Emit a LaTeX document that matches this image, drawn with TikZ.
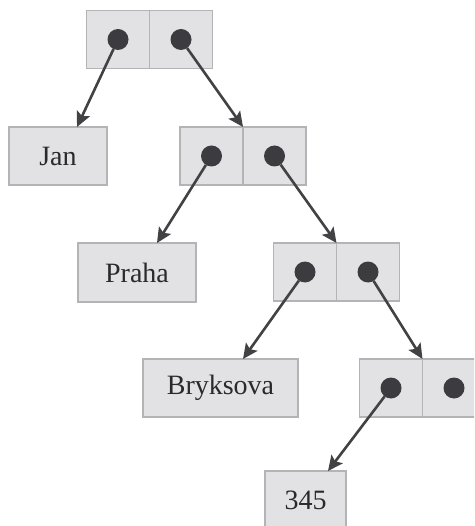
\documentclass[tikz,border=0pt]{standalone}
\usepackage{fontspec}
\setmainfont{Liberation Serif}
\newfontfamily\labelfont{Liberation Serif}
\usetikzlibrary{arrows.meta,calc}
\definecolor{boxfill}{HTML}{E2E2E4}
\definecolor{boxline}{HTML}{B4B4B6}
\definecolor{dotc}{HTML}{3C3C40}
\definecolor{arrc}{HTML}{424244}
\definecolor{txtc}{HTML}{2A2A2C}
\begin{document}
\begin{tikzpicture}[x=1pt,y=-1pt,
  cell/.style={draw=boxline,fill=boxfill,line width=1.2pt,minimum width=63pt,minimum height=58pt,inner sep=0pt,outer sep=0pt},
  textbox/.style={cell,text=txtc,font=\labelfont\fontsize{28}{30}\selectfont},
  dot/.style={circle,fill=dotc,minimum size=21pt,inner sep=0pt,outer sep=0pt},
  ptr/.style={draw=arrc,line width=2.6pt,-{Stealth[length=15pt,width=14pt,inset=3pt]}}]
\useasboundingbox (0,0) rectangle (474,526);
\clip (0,0) rectangle (474,526);
% pairs
\node[cell] (p1l) at (118,39.5) {};
\node[cell,anchor=west] (p1r) at (p1l.east) {};
\node[cell] (p2l) at (211.5,156) {};
\node[cell,anchor=west] (p2r) at (p2l.east) {};
\node[cell] (p3l) at (305,272) {};
\node[cell,anchor=west] (p3r) at (p3l.east) {};
\node[cell] (p4l) at (391,388) {};
\node[cell,anchor=west] (p4r) at (p4l.east) {};
% values
\node[textbox,minimum width=98pt] (jan) at (58,156) {Jan};
\node[textbox,minimum width=118pt,minimum height=59pt] (praha) at (137,272.5) {Praha};
\node[textbox,minimum width=155pt] (bryk) at (220.5,388) {Bryksova};
\node[textbox,minimum width=81pt] (num) at (305.5,500) {345};
% dots
\node[dot] (d1l) at (p1l.center) {};
\node[dot] (d1r) at (p1r.center) {};
\node[dot] (d2l) at (p2l.center) {};
\node[dot] (d2r) at (p2r.center) {};
\node[dot] (d3l) at (p3l.center) {};
\node[dot] (d3r) at (p3r.center) {};
\node[dot] (d4l) at (p4l.center) {};
\node[dot] (d4r) at (p4r.center) {};
% pointers
\draw[ptr] (d1l) -- ([xshift=19pt]jan.north);
\draw[ptr] (d1r) -- (p2r.north west);
\draw[ptr] (d2l) -- ([xshift=20pt]praha.north);
\draw[ptr] (d2r) -- (p3r.north west);
\draw[ptr] (d3l) -- ([xshift=22.5pt]bryk.north);
\draw[ptr] (d3r) -- (p4r.north west);
\draw[ptr] (d4l) -- ([xshift=22.5pt]num.north);
\end{tikzpicture}
\end{document}
